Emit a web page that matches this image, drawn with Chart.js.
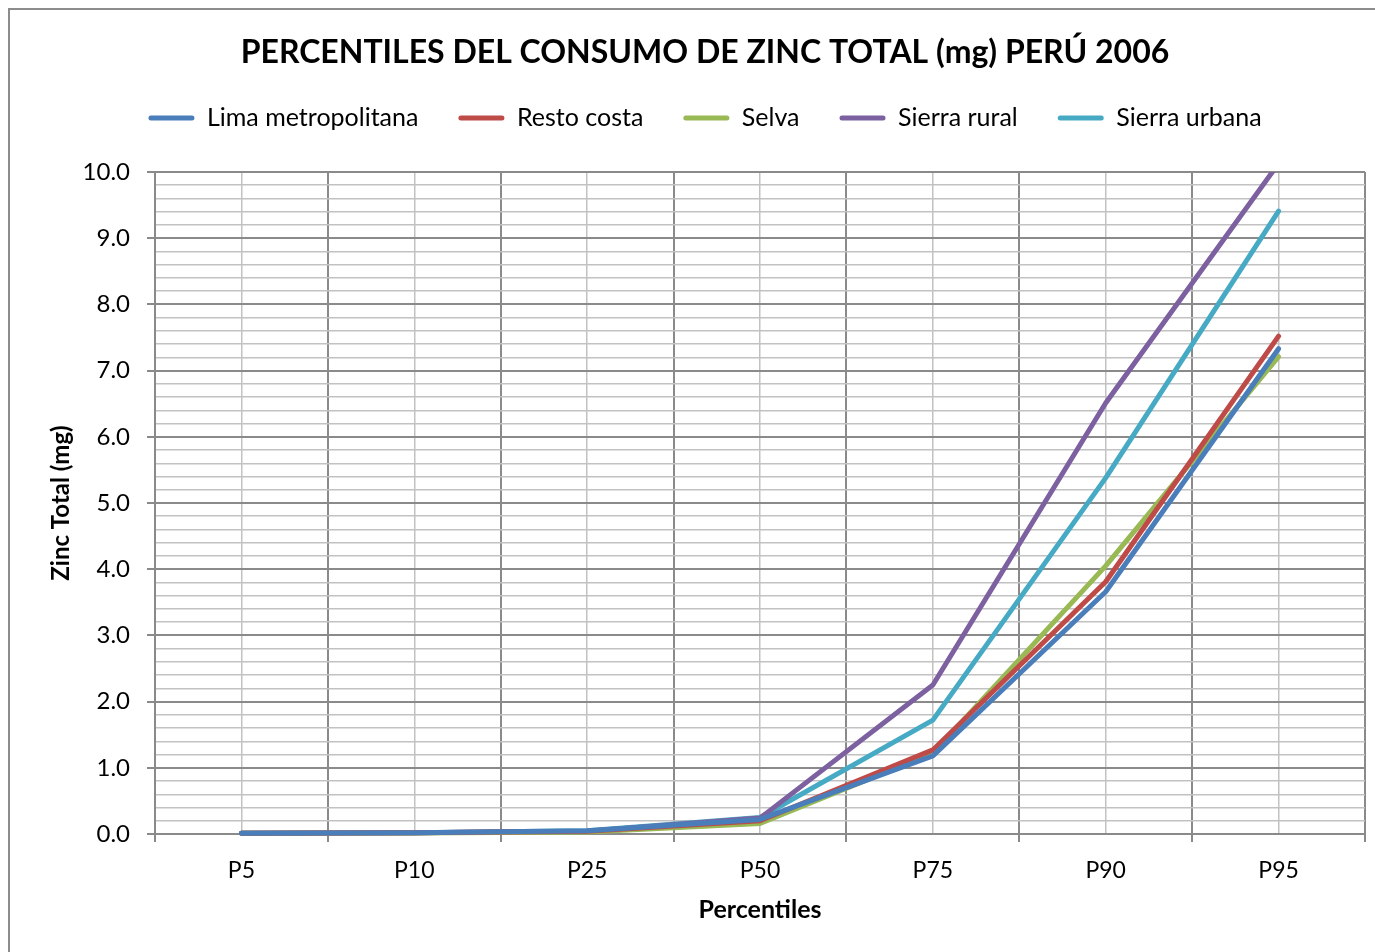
<!DOCTYPE html>
<html>
<head>
<meta charset="utf-8">
<script src="https://cdn.jsdelivr.net/npm/chart.js@4/dist/chart.umd.min.js"></script>
<style>
    html, body { margin: 0; padding: 0; background: #fff; overflow: hidden; }
    #wrap { position: relative; width: 1375px; height: 952px; }
    #frame { position: absolute; left: 8px; top: 8px; width: 2000px; height: 2000px; border: 2px solid #8c8c8c; }
    canvas { position: absolute; left: 0; top: 0; }
</style>
</head>
<body>
<div id="wrap">
    <div id="frame"></div>
    <canvas id="zincChart" width="1375" height="952"></canvas>
</div>
<script>
// Percentiles of total zinc intake (mg), Peru 2006
const categories = ['P5', 'P10', 'P25', 'P50', 'P75', 'P90', 'P95'];
const limaMetropolitana = [0.01, 0.02, 0.05, 0.22, 1.18, 3.66, 7.33];
const restoCosta = [0.01, 0.02, 0.04, 0.20, 1.27, 3.81, 7.52];
const selva = [0.01, 0.015, 0.03, 0.16, 1.22, 4.05, 7.21];
const sierraRural = [0.01, 0.02, 0.04, 0.24, 2.25, 6.51, 10.13];
const sierraUrbana = [0.01, 0.02, 0.05, 0.25, 1.72, 5.38, 9.41];

const FONT = 'Lato, "Open Sans", sans-serif';
const MAJOR = '#8a8a8a';
const MINOR = '#c2c2c2';

function isMajor(v) {
    return Math.abs(v - Math.round(v)) < 1e-6;
}

function series(label, data, color) {
    return {
        label: label,
        data: data,
        borderColor: color,
        backgroundColor: color,
        borderWidth: 5,
        borderCapStyle: 'round',
        borderJoinStyle: 'round',
        pointRadius: 0,
        pointHoverRadius: 0,
        tension: 0,
        clip: { left: 5, top: 0, right: 5, bottom: 5 }
    };
}

const ctx = document.getElementById('zincChart').getContext('2d');

new Chart(ctx, {
    type: 'line',
    data: {
        labels: categories,
        datasets: [
            series('Lima metropolitana', limaMetropolitana, '#4a7ebb'),
            series('Resto costa', restoCosta, '#be4b48'),
            series('Selva', selva, '#98b954'),
            series('Sierra rural', sierraRural, '#7d60a0'),
            series('Sierra urbana', sierraUrbana, '#46aac5')
        ]
    },
    options: {
        responsive: false,
        animation: false,
        events: [],
        layout: { padding: { left: 45, right: 10, top: 0, bottom: 23 } },
        plugins: {
            title: {
                display: true,
                text: 'PERCENTILES DEL CONSUMO DE ZINC TOTAL (mg) PERÚ 2006',
                color: '#000',
                font: { family: FONT, size: 32, weight: 'bold' },
                padding: { top: 33, bottom: -6 }
            },
            legend: {
                position: 'top',
                labels: {
                    color: '#000',
                    font: { family: FONT, size: 25 },
                    boxWidth: 46,
                    boxHeight: 5,
                    padding: 40,
                    useBorderRadius: true,
                    borderRadius: 2.5,
                    generateLabels(chart) {
                        const items = Chart.defaults.plugins.legend.labels.generateLabels(chart);
                        items.forEach(it => { it.lineWidth = 0; it.fillStyle = it.strokeStyle; });
                        return items;
                    }
                }
            },
            tooltip: { enabled: false }
        },
        scales: {
            x: {
                type: 'category',
                offset: true,
                grid: { offset: true, color: MAJOR, lineWidth: 2, tickLength: 8, tickColor: MAJOR },
                border: { color: MAJOR, width: 2 },
                ticks: { color: '#000', padding: 15, font: { family: FONT, size: 23 } },
                title: {
                    display: true,
                    text: 'Percentiles',
                    color: '#000',
                    font: { family: FONT, size: 25, weight: 'bold' },
                    padding: { top: 4, bottom: 4 }
                },
                afterFit(scale) { scale.height = 95; }
            },
            // second category axis only for the light grid lines at category centres
            x2: {
                type: 'category',
                labels: categories,
                position: 'top',
                offset: true,
                grid: { offset: false, color: MINOR, lineWidth: 1.5, drawTicks: false },
                border: { display: false },
                ticks: { display: false },
                afterFit(scale) { scale.height = 31.6; }
            },
            y: {
                min: 0,
                max: 10,
                ticks: {
                    stepSize: 0.2,
                    autoSkip: false,
                    padding: 17,
                    color: '#000',
                    font: { family: FONT, size: 24 },
                    callback: v => isMajor(v) ? v.toFixed(1) : ''
                },
                grid: {
                    color: c => isMajor(c.tick.value) ? MAJOR : MINOR,
                    lineWidth: c => isMajor(c.tick.value) ? 2 : 1.5,
                    tickLength: 8,
                    tickColor: c => isMajor(c.tick.value) ? MAJOR : 'rgba(0,0,0,0)'
                },
                border: { color: MAJOR, width: 2 },
                title: {
                    display: true,
                    text: 'Zinc Total (mg)',
                    color: '#000',
                    font: { family: FONT, size: 24, weight: 'bold' },
                    padding: { top: 2, bottom: 4 }
                },
                afterFit(scale) { scale.width = 110; }
            }
        }
    }
});
</script>
</body>
</html>
